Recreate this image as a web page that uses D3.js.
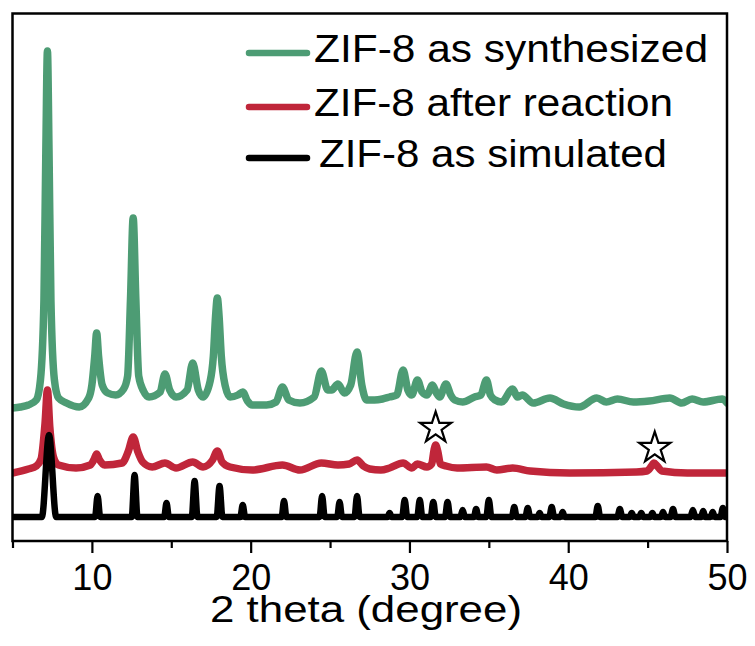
<!DOCTYPE html>
<html>
<head>
<meta charset="utf-8">
<script src="https://cdn.jsdelivr.net/npm/d3@7"></script>
<style>
  html, body { margin: 0; padding: 0; background: #ffffff; }
  svg { display: block; }
  text { font-family: "Liberation Sans", Arial, sans-serif; fill: #000; }
</style>
</head>
<body>
<svg id="chart" width="755" height="646"></svg>
<script>
// ---------- data (2θ in degrees, intensity in arbitrary units, stacked) ----------
const seriesNames = ["ZIF-8 as synthesized", "ZIF-8 after reaction", "ZIF-8 as simulated"];
const seriesColors = ["#4d9c74", "#c0263a", "#000000"];

const xTicksMajor = [10, 20, 30, 40, 50];
const xTicksMinor = [5, 15, 25, 35, 45];
const xTickLabels = ["10", "20", "30", "40", "50"];
const xTitle = "2 theta (degree)";

const synthTheta = [5.0,5.5,6.0,6.5,6.76,6.98,7.1,7.2,7.3,7.42,7.64,7.9,8.4,9.2,9.8,10.0,10.18,10.3,10.42,10.65,11.0,11.5,12.0,12.25,12.43,12.6,12.77,12.95,13.25,13.6,14.3,14.6,14.9,15.3,16.0,16.35,16.7,17.0,17.45,17.65,17.79,17.9,18.01,18.15,18.4,18.7,19.2,19.5,19.8,20.1,21.0,21.6,22.0,22.4,23.1,24.0,24.45,24.85,25.1,25.5,25.9,26.3,26.7,27.0,27.3,27.8,28.3,28.75,29.2,29.6,29.9,30.15,30.5,30.8,31.1,31.45,31.7,31.9,32.3,32.6,32.85,33.35,34.1,34.5,34.85,35.1,35.4,35.8,36.5,36.8,37.1,37.8,38.85,39.7,40.7,41.8,42.4,43.1,44.1,45.1,46.4,47.15,47.8,48.5,49.7,50.0];
const synthInt   = [133,134,136,141,161,241,391,490,391,241,161,143,138,134,143,156,185,208,185,156,148,146,152,165,241,323,241,165,150,144,149,167,151,144,151,178,151,144,160,185,225,243,225,185,155,144,146,149,140,136,136,139,154,141,138,144,170,151,151,157,148,156,189,156,141,141,142,144,146,171,151,146,161,149,146,156,148,144,157,146,141,139,144,146,161,146,141,139,152,144,146,138,143,137,134,143,139,142,139,140,143,138,142,139,142,138];

const reactTheta = [5.0,6.0,6.5,6.8,7.05,7.2,7.35,7.6,7.9,9.0,9.9,10.15,10.3,10.45,10.8,11.9,12.3,12.6,12.9,13.2,13.8,14.6,15.3,16.35,17.0,17.6,17.9,18.2,18.7,20.1,22.0,23.1,24.45,25.5,26.2,26.7,27.1,27.5,28.2,28.75,29.6,30.15,30.5,31.1,31.4,31.55,31.65,31.78,31.95,32.3,33.0,34.85,35.5,36.5,37.6,40.1,44.3,44.95,45.25,45.4,45.6,45.9,47.5,50.0];
const reactInt   = [68,72,75,82,118,151,114,83,76,73,76,82,87,82,76,78,90,104,89,79,74,78,73,79,74,81,90,79,74,71,76,71,78,76,77,81,75,72,71,73,78,73,77,74,77,91,96,90,77,75,73,74,71,73,70,68,69,70,75,78,75,70,68,68];

const simBase = 24;
const simPeakTheta  = [7.3,10.36,12.69,14.7,16.47,18.04,19.5,22.1,24.5,25.6,26.7,28.75,29.7,30.65,31.5,32.4,33.35,34.2,35.0,36.6,37.45,38.2,38.96,39.65,41.86,43.25,44.0,44.6,45.3,45.97,46.6,47.85,48.5,49.1,49.74];
const simPeakInt    = [82,21,42,14,36,31,12,16,21,15,21,4,17,17,15,15,7,8,17,10,9,4,10,5,11,8,4,4,4,5,8,7,6,5,9];
const simPeakHalfWidth = [0.45,0.16,0.18,0.15,0.18,0.18,0.15,0.15,0.16,0.15,0.16,0.13,0.16,0.16,0.16,0.16,0.14,0.14,0.16,0.15,0.15,0.13,0.15,0.13,0.15,0.15,0.13,0.13,0.13,0.13,0.15,0.15,0.13,0.13,0.15];

// impurity markers (stars) above the reaction trace
const starTheta = [31.65, 45.45];
const starInt   = [113, 93];

// ---------- layout ----------
const plot = { left: 12.5, right: 727, top: 13.5, bottom: 541 };

const svg = d3.select("#chart");
const x = d3.scaleLinear().domain([5, 50]).range([plot.left, plot.right]);
const y = d3.scaleLinear().domain([0, 528]).range([plot.bottom, plot.bottom - 528]);

const line = d3.line()
  .x(d => x(d[0]))
  .y(d => y(d[1]))
  .curve(d3.curveMonotoneX);

const synth = synthTheta.map((t, i) => [t, synthInt[i]]);
const react = reactTheta.map((t, i) => [t, reactInt[i]]);
const sim = [[5.0, simBase]];
simPeakTheta.forEach((t, i) => {
  const w = simPeakHalfWidth[i];
  sim.push([t - w, simBase], [t, simBase + simPeakInt[i]], [t + w, simBase]);
});
sim.push([50.0, simBase]);

svg.append("defs").append("clipPath").attr("id", "clip")
  .append("rect").attr("x", plot.left).attr("y", plot.top)
  .attr("width", plot.right - plot.left).attr("height", plot.bottom - plot.top);

const g = svg.append("g").attr("clip-path", "url(#clip)");
[synth, react, sim].forEach((d, i) => {
  g.append("path")
    .datum(d)
    .attr("d", line)
    .attr("fill", "none")
    .attr("stroke", seriesColors[i])
    .attr("stroke-width", i === 2 ? 6.5 : 7.5)
    .attr("stroke-linejoin", "round")
    .attr("stroke-linecap", "round");
});

// stars
const star = d3.symbol().type(d3.symbolStar).size(300);
svg.append("g").selectAll("path.star")
  .data(starTheta.map((t, i) => [t, starInt[i]]))
  .join("path")
  .attr("class", "star")
  .attr("transform", d => `translate(${x(d[0])},${y(d[1])})`)
  .attr("d", star)
  .attr("fill", "#fff")
  .attr("stroke", "#000")
  .attr("stroke-width", 2.2)
  .attr("stroke-linejoin", "miter");

// frame
svg.append("rect")
  .attr("x", plot.left).attr("y", plot.top)
  .attr("width", plot.right - plot.left).attr("height", plot.bottom - plot.top)
  .attr("fill", "none").attr("stroke", "#000").attr("stroke-width", 2.5);

// bottom axis: major ticks with labels
const axMajor = svg.append("g")
  .attr("transform", `translate(0,${plot.bottom})`)
  .call(d3.axisBottom(x).tickValues(xTicksMajor).tickSize(12).tickPadding(11)
        .tickFormat((d, i) => xTickLabels[i]));
axMajor.select(".domain").remove();
axMajor.selectAll(".tick line").attr("stroke", "#000").attr("stroke-width", 2.2);
axMajor.selectAll(".tick text")
  .attr("font-size", 36).attr("font-family", "Liberation Sans, Arial, sans-serif")
  .attr("fill", "#000");

const axMinor = svg.append("g")
  .attr("transform", `translate(0,${plot.bottom})`)
  .call(d3.axisBottom(x).tickValues(xTicksMinor).tickSize(7).tickFormat(""));
axMinor.select(".domain").remove();
axMinor.selectAll(".tick line").attr("stroke", "#000").attr("stroke-width", 2.2);

// axis title
svg.append("text")
  .attr("x", 366).attr("y", 622)
  .attr("text-anchor", "middle")
  .attr("font-size", 36)
  .attr("textLength", 312)
  .attr("lengthAdjust", "spacingAndGlyphs")
  .text(xTitle);

// legend
const legendY = [53, 107, 158];
const legendTextX = [314, 314, 319];
const legendTextLen = [394, 359, 348];
const lg = svg.append("g");
seriesNames.forEach((name, i) => {
  lg.append("line")
    .attr("x1", 249).attr("x2", 307)
    .attr("y1", legendY[i]).attr("y2", legendY[i])
    .attr("stroke", seriesColors[i]).attr("stroke-width", 6.5)
    .attr("stroke-linecap", "round");
  lg.append("text")
    .attr("x", legendTextX[i]).attr("y", legendY[i] + 9)
    .attr("font-size", 38)
    .attr("textLength", legendTextLen[i])
    .attr("lengthAdjust", "spacingAndGlyphs")
    .text(name);
});
</script>
</body>
</html>
